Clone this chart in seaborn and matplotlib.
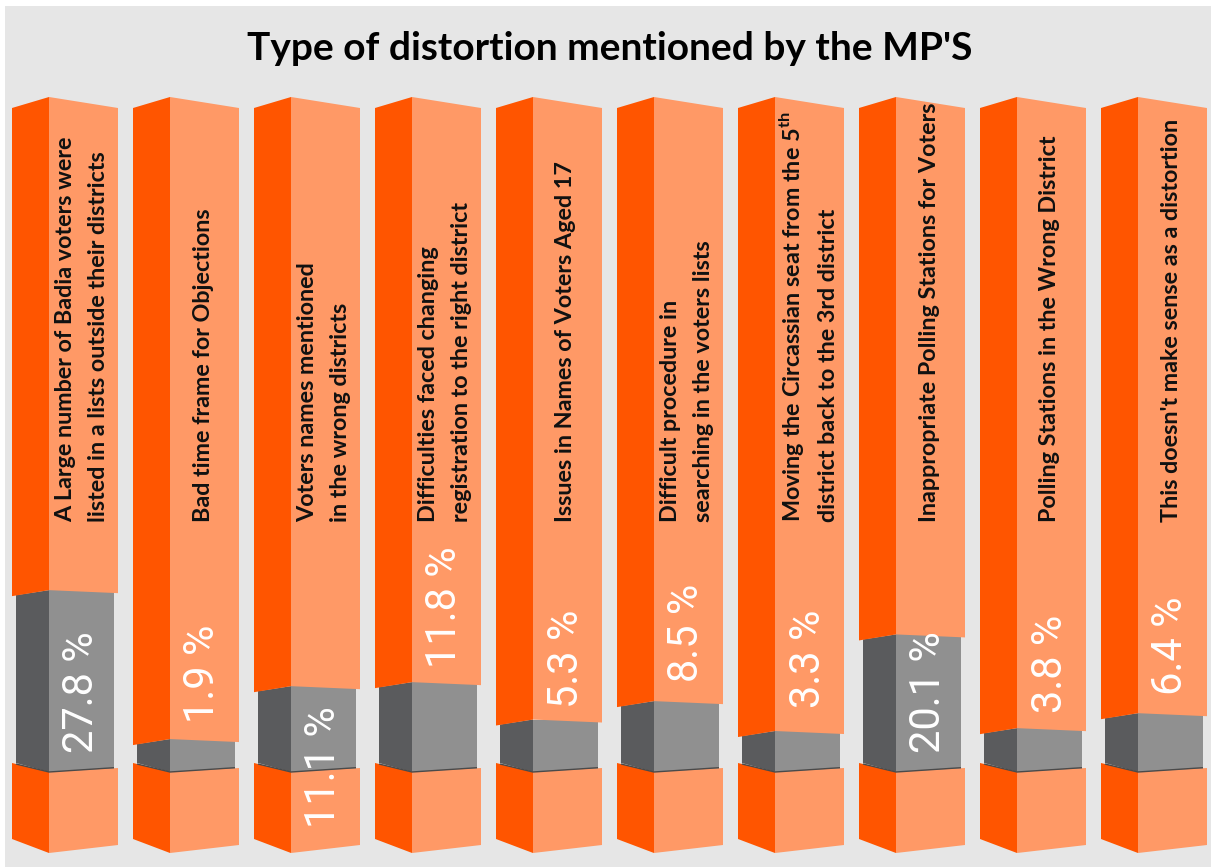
import matplotlib
matplotlib.use("Agg")
import matplotlib.pyplot as plt
from matplotlib.patches import Polygon, Rectangle
import seaborn as sns
import pandas as pd

# ---------------- data ----------------
title = "Type of distortion mentioned by the MP'S"
categories = [
    "A Large number of Badia voters were\nlisted in a lists outside their districts",
    "Bad time frame for Objections",
    "Voters names mentioned\nin the wrong districts",
    "Difficulties faced changing\nregistration to the right district",
    "Issues in Names of Voters Aged 17",
    "Difficult procedure in\nsearching in the voters lists",
    "Moving the Circassian seat from the 5$^{\\mathregular{th}}$\ndistrict back to the 3rd district",
    "Inappropriate Polling Stations for Voters",
    "Polling Stations in the Wrong District",
    "This doesn't make sense as a distortion",
]
values = [27.8, 1.9, 11.1, 11.8, 5.3, 8.5, 3.3, 20.1, 3.8, 6.4]
value_labels = [f"{v:.1f} %" for v in values]

# ---------------- layout (pixel based) ----------------
W, H = 1211, 867
PITCH = 121
SIDE_W, FRONT_R = 37, 106          # side face 0..37, front face 37..106
GRAY_L, GRAY_R = 4, 102
TOP_APEX, TOP_EDGE = 97, 108
BASE_TOP = (763, 772, 768)         # outer, boundary, right  (pixel y, downwards)
BASE_BOT = (839, 853, 845)
GRAY_MIN, PX_PER_PCT = 22, 5.75
pct_label_start = [753, 723, 828, 668, 708, 682, 708, 753, 713, 695]
LABEL_START = 522

C_BG = "#E6E6E6"
C_OR_SIDE = "#FF5500"
C_OR_FRONT = "#FF9966"
C_GR_SIDE = "#5A5B5D"
C_GR_FRONT = "#909090"

sns.set_style("white")
plt.rcParams["font.family"] = ["Lato", "DejaVu Sans"]
plt.rcParams["mathtext.fontset"] = "custom"
plt.rcParams["mathtext.rm"] = "Lato:bold"


def X(i, off):
    return i + (off - 69.5) / PITCH


def Y(py):
    return H - py


fig = plt.figure(figsize=(W / 100, H / 100), dpi=100, facecolor="white")
ax = fig.add_axes([0, 0, 1, 1])

gray_h = [GRAY_MIN + PX_PER_PCT * v for v in values]
df = pd.DataFrame({"idx": list(range(len(values))), "h": gray_h})

# gray front faces through seaborn
sns.barplot(data=df, x="idx", y="h", bottom=Y(BASE_TOP[1]), width=(GRAY_R - SIDE_W) / PITCH,
            color=C_GR_FRONT, saturation=1, errorbar=None, ax=ax, zorder=2,
            linewidth=0, edgecolor="none")

ax.add_patch(Rectangle((X(0, -12 + 5), 0), (W - 5) / PITCH, H - 6, facecolor=C_BG,
                       edgecolor="none", zorder=0))

for i, h in enumerate(gray_h):
    gt = BASE_TOP[1] - h   # pixel y of gray top at boundary
    # gray side
    ax.add_patch(Polygon([(X(i, GRAY_L), Y(gt + 5)), (X(i, SIDE_W), Y(gt)),
                          (X(i, SIDE_W), Y(BASE_TOP[1])), (X(i, GRAY_L), Y(BASE_TOP[0]))],
                         closed=True, facecolor=C_GR_SIDE, edgecolor="none", zorder=2))
    # upper orange block
    ax.add_patch(Polygon([(X(i, 0), Y(gt + 6)), (X(i, SIDE_W), Y(gt)),
                          (X(i, SIDE_W), Y(TOP_APEX)), (X(i, 0), Y(TOP_EDGE))],
                         closed=True, facecolor=C_OR_SIDE, edgecolor="none", zorder=3))
    ax.add_patch(Polygon([(X(i, SIDE_W), Y(gt)), (X(i, FRONT_R), Y(gt + 3)),
                          (X(i, FRONT_R), Y(TOP_EDGE)), (X(i, SIDE_W), Y(TOP_APEX))],
                         closed=True, facecolor=C_OR_FRONT, edgecolor="none", zorder=3))
    # base block
    ax.add_patch(Polygon([(X(i, 0), Y(BASE_TOP[0])), (X(i, SIDE_W), Y(BASE_TOP[1])),
                          (X(i, SIDE_W), Y(BASE_BOT[1])), (X(i, 0), Y(BASE_BOT[0]))],
                         closed=True, facecolor=C_OR_SIDE, edgecolor="none", zorder=3))
    ax.add_patch(Polygon([(X(i, SIDE_W), Y(BASE_TOP[1])), (X(i, FRONT_R), Y(BASE_TOP[2])),
                          (X(i, FRONT_R), Y(BASE_BOT[2])), (X(i, SIDE_W), Y(BASE_BOT[1]))],
                         closed=True, facecolor=C_OR_FRONT, edgecolor="none", zorder=3))
    # shadow line at the gray / base junction
    ax.plot([X(i, GRAY_L), X(i, SIDE_W), X(i, GRAY_R)],
            [Y(BASE_TOP[0] + 1), Y(BASE_TOP[1]), Y(BASE_TOP[2] - 0.3)],
            color="#4a4a4a", lw=1.0, zorder=4, solid_capstyle="butt")

    # category label
    ax.text(X(i, 70), Y(LABEL_START), categories[i], rotation=90, rotation_mode="anchor",
            ha="left", va="center", fontsize=16.8, fontweight="bold", color="#111111",
            linespacing=1.7, zorder=5)

    # value label
    ax.text(X(i, 70), Y(pct_label_start[i]), value_labels[i], rotation=90,
            rotation_mode="anchor", ha="left", va="center", fontsize=30,
            family=["Roboto", "DejaVu Sans"], color="white", zorder=6)

ax.text(X(0, 0) + (610 - 12) / PITCH, Y(60), title, ha="center", va="baseline",
        fontsize=28, fontweight="bold", color="black", zorder=5)

ax.set_xlim(X(0, -12), X(0, -12 + W))
ax.set_ylim(0, H)
ax.axis("off")

fig.savefig("out.png", dpi=100, facecolor="white")
